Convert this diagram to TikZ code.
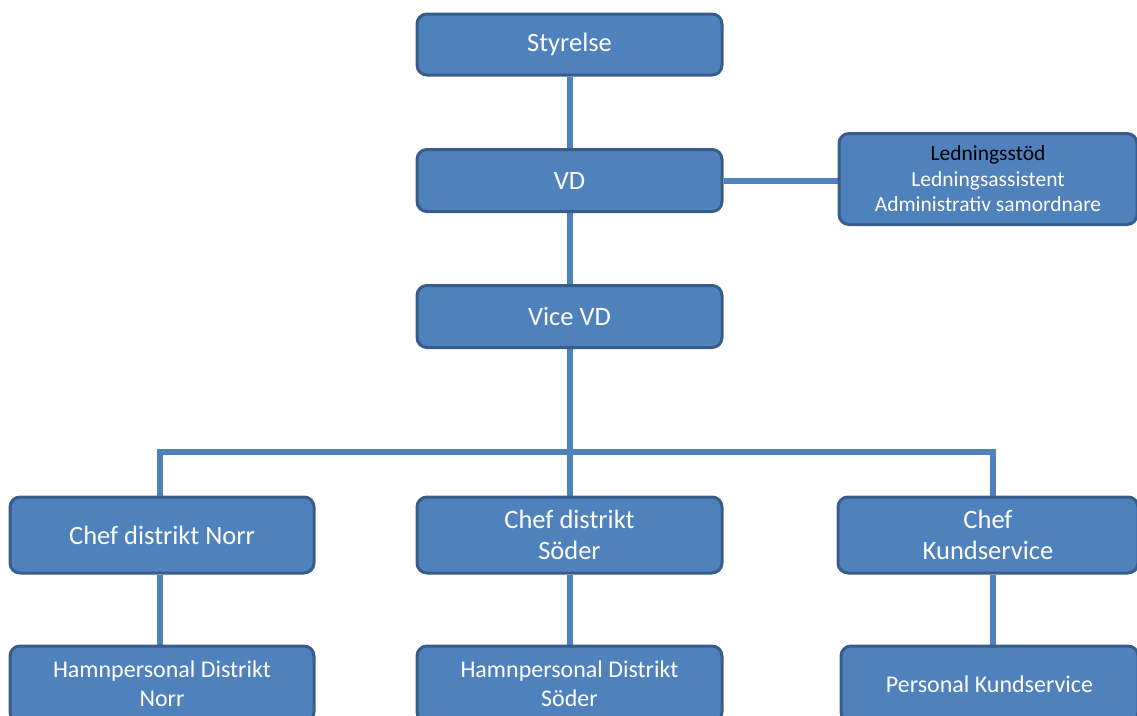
\documentclass[tikz,border=0pt]{standalone}
\usepackage{fontspec}
\setmainfont{Carlito}
\usetikzlibrary{backgrounds}
\definecolor{boxfill}{HTML}{4F81BD}
\definecolor{boxline}{HTML}{385D8A}
\definecolor{conn}{HTML}{4F81BD}
\tikzset{
  orgbox/.style={draw=boxline, line width=3pt, fill=boxfill, rounded corners=10pt,
    text=white, align=center, inner sep=0pt, font=\fontsize{26.5}{31}\selectfont},
  link/.style={draw=conn, line width=6pt}
}
\begin{document}
\begin{tikzpicture}[x=1pt,y=-1pt]
\useasboundingbox (0,0) rectangle (1137,715);
\clip (0,0) rectangle (1137,715);
\node[orgbox, minimum width=305pt, minimum height=61pt] (sty) at (569.5,44.5) {Styrelse};
\node[orgbox, minimum width=305pt, minimum height=62pt] (vd) at (569.5,180.5) {VD};
\node[orgbox, minimum width=305pt, minimum height=62pt] (vvd) at (569.5,316.5) {Vice VD};
\node[orgbox, minimum width=298pt, minimum height=91pt, font=\fontsize{21.5}{25.5}\selectfont] (led) at (988,179)
  {\textcolor{black}{Ledningsstöd}\\Ledningsassistent\\Administrativ samordnare};
\node[orgbox, minimum width=304pt, minimum height=76pt] (cn) at (162,535) {Chef distrikt Norr};
\node[orgbox, minimum width=305pt, minimum height=76pt] (cs) at (569.5,535) {Chef distrikt\\Söder};
\node[orgbox, minimum width=300pt, minimum height=76pt] (ck) at (988,535) {Chef\\Kundservice};
\node[orgbox, minimum width=304pt, minimum height=76pt, font=\fontsize{24}{29}\selectfont] (hn) at (162,684) {Hamnpersonal Distrikt\\Norr};
\node[orgbox, minimum width=305pt, minimum height=76pt, font=\fontsize{24}{29}\selectfont] (hs) at (569.5,684) {Hamnpersonal Distrikt\\Söder};
\node[orgbox, minimum width=297pt, minimum height=76pt, font=\fontsize{24}{29}\selectfont] (pk) at (989.5,684) {Personal Kundservice};
\coordinate (busl) at (160,452);
\coordinate (busm) at (569.5,452);
\coordinate (busr) at (993,452);
\begin{scope}[on background layer]
\draw[link] (sty.south) -- (vd.north);
\draw[link] (vd.east) -- (led.west |- vd.east);
\draw[link] (vd.south) -- (vvd.north);
\draw[link] (vvd.south) -- (busm);
\draw[link, line cap=rect] (busl) -- (busr);
\draw[link] (busl) -- (busl |- cn.north);
\draw[link] (busm) -- (cs.north);
\draw[link] (busr) -- (busr |- ck.north);
\draw[link] (busl |- cn.south) -- (busl |- hn.north);
\draw[link] (cs.south) -- (hs.north);
\draw[link] (busr |- ck.south) -- (busr |- pk.north);
\end{scope}
\end{tikzpicture}
\end{document}
